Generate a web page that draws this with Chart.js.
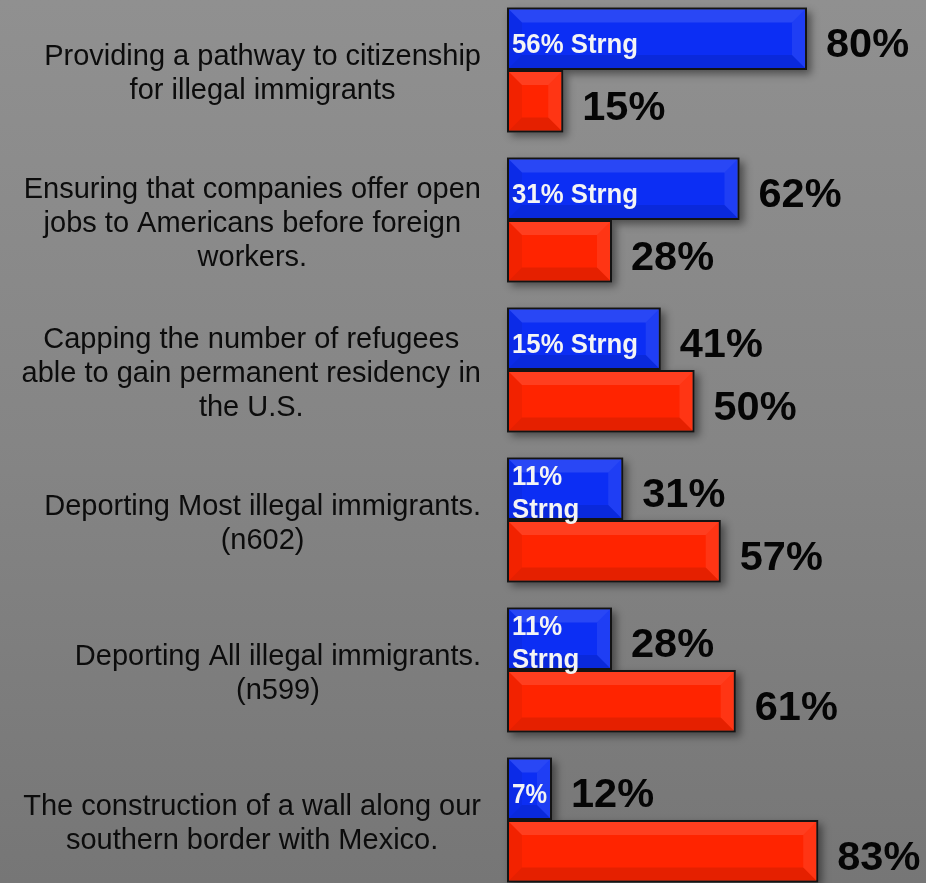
<!DOCTYPE html>
<html>
<head>
<meta charset="utf-8">
<script src="https://cdn.jsdelivr.net/npm/chart.js@4/dist/chart.umd.min.js"></script>
<style>
  html, body { margin: 0; padding: 0; overflow: hidden; }
  body {
    width: 926px; height: 883px;
    background: linear-gradient(to bottom, #909090 0%, #858585 50%, #767676 100%);
    position: relative;
  }
  #grafico { position: absolute; left: 0; top: -5px; }
</style>
</head>
<body>
<canvas id="grafico" width="926" height="900"></canvas>
<script>
// Perguntas (linhas de cada rótulo)
const perguntas = [
  ["Providing a pathway to citizenship", "for illegal immigrants"],
  ["Ensuring that companies offer open", "jobs to Americans before foreign", "workers."],
  ["Capping the number of refugees", "able to gain permanent residency in", "the U.S."],
  ["Deporting Most illegal immigrants.", "(n602)"],
  ["Deporting All illegal immigrants.", "(n599)"],
  ["The construction of a wall along our", "southern border with Mexico."]
];
const apoioTotal = [80, 62, 41, 31, 28, 12];
const apoioForte = [56, 31, 15, 11, 11, 7];
const contraTotal = [15, 28, 50, 57, 61, 83];

const FONTE = "'Liberation Sans', Arial, sans-serif";
const CAP = 0.716; // altura das maiúsculas em em

function retangulo(el) {
  const p = el.getProps(["x", "y", "base", "height"], true);
  return {
    left: Math.min(p.x, p.base), right: Math.max(p.x, p.base),
    top: p.y - p.height / 2, bottom: p.y + p.height / 2, cy: p.y
  };
}

// Sombra atrás das barras
const sombra = {
  id: "sombra",
  beforeDatasetsDraw(chart) {
    const ctx = chart.ctx;
    ctx.save();
    ctx.shadowColor = "rgba(0,0,0,0.45)";
    ctx.shadowBlur = 8;
    ctx.shadowOffsetX = 4;
    ctx.shadowOffsetY = 4;
    ctx.fillStyle = "#444";
    chart.data.datasets.forEach((ds, i) => {
      chart.getDatasetMeta(i).data.forEach(el => {
        const r = retangulo(el);
        ctx.fillRect(r.left, r.top, r.right - r.left, r.bottom - r.top);
      });
    });
    ctx.restore();
  }
};

// Chanfro, textos internos, valores e rótulos das perguntas
const acabamento = {
  id: "acabamento",
  afterDatasetsDraw(chart) {
    const ctx = chart.ctx;
    ctx.save();
    chart.data.datasets.forEach((ds, i) => {
      chart.getDatasetMeta(i).data.forEach(el => {
        const r = retangulo(el);
        const b = 2;
        const L = r.left + b, R = r.right - b, T = r.top + b, B = r.bottom - b;
        const w = Math.min(13, (R - L) / 3, (B - T) / 3);
        const trap = (pts, cor) => {
          ctx.beginPath();
          ctx.moveTo(pts[0][0], pts[0][1]);
          pts.slice(1).forEach(p => ctx.lineTo(p[0], p[1]));
          ctx.closePath();
          ctx.fillStyle = cor;
          ctx.fill();
        };
        trap([[L, T], [R, T], [R - w, T + w], [L + w, T + w]], "rgba(255,255,255,0.12)");
        trap([[R, T], [R, B], [R - w, B - w], [R - w, T + w]], "rgba(255,255,255,0.08)");
        trap([[L, T], [L + w, T + w], [L + w, B - w], [L, B]], "rgba(0,0,0,0.05)");
        trap([[L, B], [L + w, B - w], [R - w, B - w], [R, B]], "rgba(0,0,0,0.10)");
      });
    });

    // texto "Strng" dentro das barras azuis
    const tam = 28, escala = 0.92;
    ctx.font = "bold " + tam + "px " + FONTE;
    ctx.fillStyle = "#f4f4f4";
    ctx.textAlign = "left";
    ctx.textBaseline = "alphabetic";
    const larg = t => ctx.measureText(t).width * escala;
    chart.getDatasetMeta(0).data.forEach((el, i) => {
      const r = retangulo(el);
      const disp = r.right - r.left - 10;
      const v = apoioForte[i] + "%";
      let linhas;
      if (larg(v + " Strng") <= disp) linhas = [v + " Strng"];
      else if (larg("Strng") <= disp) linhas = [v, "Strng"];
      else linhas = [v];
      const centros = linhas.length === 1 ? [r.cy + 4] : [r.cy - 14, r.cy + 19];
      linhas.forEach((t, k) => {
        const s = Math.min(escala, disp / ctx.measureText(t).width);
        ctx.save();
        ctx.translate(r.left + 5, centros[k] + tam * CAP / 2);
        ctx.scale(s, 1);
        ctx.fillText(t, 0, 0);
        ctx.restore();
      });
    });

    // valores à direita das barras
    const tamV = 41.5;
    ctx.font = "bold " + tamV + "px " + FONTE;
    ctx.fillStyle = "#050505";
    chart.data.datasets.forEach((ds, i) => {
      chart.getDatasetMeta(i).data.forEach((el, k) => {
        const r = retangulo(el);
        ctx.fillText(ds.data[k] + "%", r.right + 19, r.cy + 3.5 + tamV * CAP / 2);
      });
    });

    // rótulos das perguntas, centralizados em bloco
    const tamP = 29, passo = 34;
    ctx.font = tamP + "px " + FONTE;
    ctx.fillStyle = "#0c0c0c";
    ctx.textAlign = "center";
    const escY = chart.scales.y;
    const direita = chart.chartArea.left - 26;
    chart.data.labels.forEach((linhas, i) => {
      const cy = escY.getPixelForValue(i) + 1.5;
      const maxW = Math.max(...linhas.map(t => ctx.measureText(t).width));
      const cx = direita - maxW / 2;
      linhas.forEach((t, k) => {
        const c = cy + (k - (linhas.length - 1) / 2) * passo;
        ctx.fillText(t, cx, c + tamP * CAP / 2);
      });
    });
    ctx.restore();
  }
};

new Chart(document.getElementById("grafico").getContext("2d"), {
  type: "bar",
  data: {
    labels: perguntas,
    datasets: [
      {
        label: "Support",
        data: apoioTotal,
        backgroundColor: "#0C2EF4",
        borderColor: "#141414",
        borderWidth: 2,
        borderSkipped: false,
        categoryPercentage: 0.8333,
        barPercentage: 1
      },
      {
        label: "Oppose",
        data: contraTotal,
        backgroundColor: "#FF2400",
        borderColor: "#141414",
        borderWidth: 2,
        borderSkipped: false,
        categoryPercentage: 0.8333,
        barPercentage: 1
      }
    ]
  },
  options: {
    indexAxis: "y",
    responsive: false,
    animation: false,
    layout: { padding: { left: 507, right: 44, top: 0, bottom: 0 } },
    scales: {
      x: { min: 0, max: 100, display: false },
      y: { display: false }
    },
    plugins: {
      legend: { display: false },
      tooltip: { enabled: false }
    }
  },
  plugins: [sombra, acabamento]
});
</script>
</body>
</html>
